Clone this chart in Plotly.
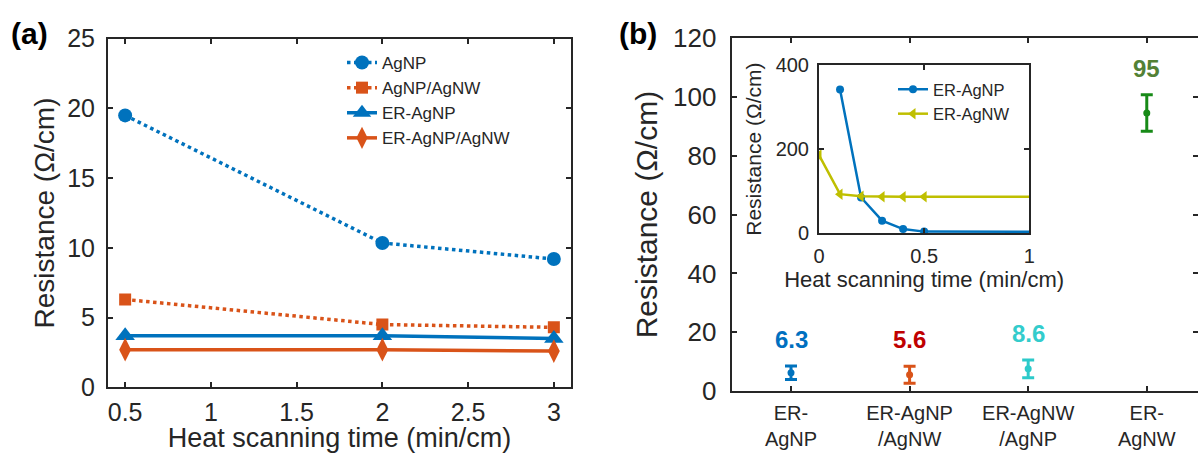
import plotly.graph_objects as go

# ---------------- data ----------------
# panel (a)
time_a = [0.5, 2, 3]
agnp = [19.5, 10.35, 9.2]
agnp_agnw = [6.3, 4.5, 4.3]
er_agnp = [3.7, 3.7, 3.5]
er_agnp_agnw = [2.7, 2.7, 2.6]

# panel (b)
categories = [1, 2, 3, 4]
cat_labels = ["ER-<br>AgNP", "ER-AgNP<br>/AgNW", "ER-AgNW<br>/AgNP", "ER-<br>AgNW"]
means_b = [6.3, 5.6, 7.6, 94.5]
errs_b = [2.3, 2.9, 3.0, 6.2]
label_text = ["6.3", "5.6", "8.6", "95"]

# inset
inset_t_np = [0.1, 0.2, 0.3, 0.4, 0.5, 2, 3]
inset_er_agnp = [342, 85, 30, 10, 4, 3.7, 3.5]
inset_t_nw = [0, 0.1, 0.2, 0.3, 0.4, 0.5, 2, 3]
inset_er_agnw = [186, 93, 88, 87, 87, 87, 87, 87]

# ---------------- style ----------------
FONT = "Liberation Sans, Arial, sans-serif"
INK = "#262626"
BLUE = "#0072BD"
ORANGE = "#D95319"
OLIVE = "#BFBF00"
bar_colors = ["#0072BD", "#D95319", "#2CCACA", "#178A17"]
label_colors = ["#0070C0", "#C00000", "#33CCCC", "#538135"]

W, H = 1198, 453

fig = go.Figure()

# panel (a) traces
fig.add_trace(go.Scatter(x=time_a, y=agnp, name="AgNP", mode="lines+markers",
                         line=dict(color=BLUE, width=3.5, dash="dot"),
                         marker=dict(symbol="circle", size=14, color=BLUE),
                         xaxis="x", yaxis="y", legend="legend"))
fig.add_trace(go.Scatter(x=time_a, y=agnp_agnw, name="AgNP/AgNW", mode="lines+markers",
                         line=dict(color=ORANGE, width=3.5, dash="dot"),
                         marker=dict(symbol="square", size=12, color=ORANGE),
                         xaxis="x", yaxis="y", legend="legend"))
fig.add_trace(go.Scatter(x=time_a, y=er_agnp, name="ER-AgNP", mode="lines+markers",
                         line=dict(color=BLUE, width=3.5),
                         marker=dict(symbol="triangle-up", size=17, color=BLUE),
                         xaxis="x", yaxis="y", legend="legend"))
fig.add_trace(go.Scatter(x=time_a, y=er_agnp_agnw, name="ER-AgNP/AgNW", mode="lines+markers",
                         line=dict(color=ORANGE, width=3.5),
                         marker=dict(symbol="diamond-tall", size=17, color=ORANGE),
                         xaxis="x", yaxis="y", legend="legend"))

# panel (b) error bars
for i in range(len(categories)):
    fig.add_trace(go.Scatter(x=[categories[i]], y=[means_b[i]], mode="markers",
                             marker=dict(size=7, color=bar_colors[i]),
                             error_y=dict(type="data", array=[errs_b[i]], visible=True,
                                          color=bar_colors[i], thickness=3, width=6),
                             showlegend=False, xaxis="x2", yaxis="y2"))
    fig.add_annotation(x=categories[i], y=means_b[i] + errs_b[i], xref="x2", yref="y2",
                       text="<b>%s</b>" % label_text[i], showarrow=False,
                       yanchor="bottom", yshift=11,
                       font=dict(family=FONT, size=24, color=label_colors[i]))

# inset traces
fig.add_trace(go.Scatter(x=inset_t_np, y=inset_er_agnp, name="ER-AgNP", mode="lines+markers",
                         line=dict(color=BLUE, width=2.5),
                         marker=dict(symbol="circle", size=8, color=BLUE),
                         xaxis="x3", yaxis="y3", legend="legend2", cliponaxis=True))
fig.add_trace(go.Scatter(x=inset_t_nw, y=inset_er_agnw, name="ER-AgNW", mode="lines+markers",
                         line=dict(color=OLIVE, width=2.5),
                         marker=dict(symbol="triangle-left", size=10, color=OLIVE),
                         xaxis="x3", yaxis="y3", legend="legend2", cliponaxis=True))

axis_common = dict(showline=True, linecolor=INK, linewidth=2, mirror="ticks",
                   ticks="inside", ticklen=5, tickwidth=1.5, tickcolor=INK,
                   showgrid=False, zeroline=False, automargin=False,
                   tickfont=dict(family=FONT, color=INK))

fig.update_layout(
    template="none",
    width=W, height=H,
    margin=dict(l=0, r=0, t=0, b=0, pad=0),
    paper_bgcolor="white", plot_bgcolor="white",
    font=dict(family=FONT, color=INK),
    xaxis=dict(axis_common, domain=[108 / W, 571 / W], range=[0.4, 3.1],
               tickvals=[0.5, 1, 1.5, 2, 2.5, 3], ticktext=["0.5", "1", "1.5", "2", "2.5", "3"],
               tickfont=dict(family=FONT, size=25, color=INK), ticklabelstandoff=2,
               title=dict(text="Heat scanning time (min/cm)", standoff=11,
                          font=dict(family=FONT, size=27, color=INK)),
               anchor="y"),
    yaxis=dict(axis_common, domain=[1 - 387.3 / H, 1 - 38.7 / H], range=[0, 25],
               tickvals=[0, 5, 10, 15, 20, 25],
               tickfont=dict(family=FONT, size=25, color=INK), ticklabelstandoff=6,
               title=dict(text="Resistance (Ω/cm)", standoff=4,
                          font=dict(family=FONT, size=28, color=INK)),
               anchor="x"),
    xaxis2=dict(axis_common, domain=[731.7 / W, 1.0], range=[0.5, 4.432],
                tickvals=categories, ticktext=cat_labels,
                tickfont=dict(family=FONT, size=20, color=INK), ticklabelstandoff=3,
                anchor="y2"),
    yaxis2=dict(axis_common, domain=[1 - 391.2 / H, 1 - 38 / H], range=[0, 120],
                tickvals=[0, 20, 40, 60, 80, 100, 120],
                tickfont=dict(family=FONT, size=26, color=INK), ticklabelstandoff=8,
                title=dict(text="Resistance (Ω/cm)", standoff=7,
                           font=dict(family=FONT, size=30, color=INK)),
                anchor="x2"),
    xaxis3=dict(axis_common, domain=[819 / W, 1029.3 / W], range=[0, 1],
                tickvals=[0, 0.5, 1], ticktext=["0", "0.5", "1"],
                tickfont=dict(family=FONT, size=20, color=INK), ticklabelstandoff=4,
                title=dict(text="Heat scanning time (min/cm)", standoff=2,
                           font=dict(family=FONT, size=22, color=INK)),
                anchor="y3"),
    yaxis3=dict(axis_common, domain=[1 - 233.3 / H, 1 - 65 / H], range=[0, 400],
                tickvals=[0, 200, 400],
                tickfont=dict(family=FONT, size=20, color=INK), ticklabelstandoff=4,
                title=dict(text="Resistance (Ω/cm)", standoff=8,
                           font=dict(family=FONT, size=21, color=INK)),
                anchor="x3"),
    legend=dict(x=342 / W, y=1 - 45 / H, xanchor="left", yanchor="top",
                bgcolor="rgba(0,0,0,0)", borderwidth=0,
                font=dict(family=FONT, size=17, color=INK)),
    legend2=dict(x=893 / W, y=1 - 72 / H, xanchor="left", yanchor="top",
                 bgcolor="rgba(0,0,0,0)", borderwidth=0,
                 font=dict(family=FONT, size=16.5, color=INK)),
    annotations=list(fig.layout.annotations) + [
        dict(text="<b>(a)</b>", x=9 / W, y=1 - 33 / H, xref="paper", yref="paper",
             xanchor="left", yanchor="middle", showarrow=False,
             font=dict(family=FONT, size=30, color="black")),
        dict(text="<b>(b)</b>", x=617 / W, y=1 - 33 / H, xref="paper", yref="paper",
             xanchor="left", yanchor="middle", showarrow=False,
             font=dict(family=FONT, size=30, color="black")),
    ],
)

fig.write_html("out.html", config={"displayModeBar": False},
               post_script="document.body.style.margin='0';document.body.style.overflow='hidden';")
